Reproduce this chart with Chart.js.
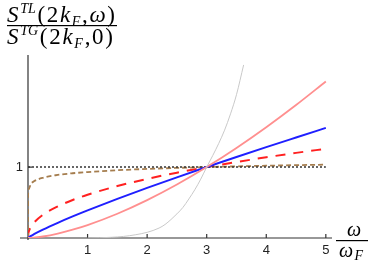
<!DOCTYPE html>
<html>
<head>
<meta charset="utf-8">
<script src="https://cdn.jsdelivr.net/npm/chart.js@4/dist/chart.umd.min.js"></script>
<style>
  body { margin: 0; background: #fff; }
  #wrap { width: 377px; height: 269px; }
</style>
</head>
<body>
<div id="wrap"><canvas id="chart" width="377" height="269"></canvas></div>
<script>
// values
const xTicks = [1, 2, 3, 4, 5];
const yTicks = [1];

const blueX = [0, 0.05, 0.1, 0.25, 0.5, 0.75, 1, 1.5, 2, 2.5, 3, 3.5, 4, 4.5, 5];
const blueY = [0, 0.03, 0.054, 0.118, 0.214, 0.304, 0.389, 0.551, 0.706, 0.855, 1, 1.142, 1.281, 1.417, 1.552];

const pinkX = [0, 0.05, 0.1, 0.25, 0.5, 0.75, 1, 1.5, 2, 2.5, 3, 3.5, 4, 4.5, 5];
const pinkY = [0, 0.002, 0.006, 0.021, 0.062, 0.117, 0.182, 0.342, 0.534, 0.754, 1, 1.27, 1.562, 1.875, 2.207];

const redX = [0, 0.005, 0.02, 0.05, 0.1, 0.25, 0.5, 0.75, 1, 1.5, 2, 2.5, 3, 3.5, 4, 4.5, 5];
const redY = [0, 0.056, 0.105, 0.158, 0.216, 0.327, 0.446, 0.536, 0.61, 0.732, 0.833, 0.921, 1, 1.071, 1.138, 1.2, 1.258];

const brownX = [0, 0.002, 0.01, 0.05, 0.1, 0.25, 0.5, 0.75, 1, 1.5, 2, 2.5, 3, 3.5, 4, 4.5, 5];
const brownY = [0, 0.617, 0.687, 0.763, 0.799, 0.849, 0.889, 0.913, 0.93, 0.955, 0.974, 0.988, 1, 1.01, 1.019, 1.027, 1.034];

const grayX = [1.0, 1.2, 1.4, 1.6, 1.8, 2.0, 2.2, 2.3, 2.4, 2.5, 2.6, 2.7, 2.8, 2.9, 3.0, 3.1, 3.2, 3.3, 3.4, 3.5, 3.62];
const grayY = [0, 0.003, 0.01, 0.022, 0.045, 0.08, 0.14, 0.19, 0.26, 0.34, 0.43, 0.55, 0.68, 0.83, 1.0, 1.16, 1.33, 1.52, 1.75, 2.02, 2.44];

const refX = [0, 5];
const refY = [1, 1];

function pts(xs, ys) {
  return xs.map((x, i) => ({ x: x, y: ys[i] }));
}

// draws a run of text pieces (font, offset) and spreads them to a given width
function richText(ctx, parts, x, y, width) {
  let natural = 0;
  parts.forEach(p => { ctx.font = p.f; natural += ctx.measureText(p.t).width; });
  const gap = parts.length > 1 ? Math.max(0, (width - natural) / (parts.length - 1)) : 0;
  let cx = x;
  parts.forEach(p => {
    ctx.font = p.f;
    ctx.fillText(p.t, cx, y + (p.dy || 0));
    cx += ctx.measureText(p.t).width + gap;
  });
}

const serif = '"Liberation Serif", "DejaVu Serif", serif';
const big = 'italic 23px ' + serif;
const bigUp = '23px ' + serif;
const small = 'italic 14px ' + serif;

const decorations = {
  id: 'decorations',
  beforeDatasetsDraw(chart) {
    const ctx = chart.ctx;
    const xs = chart.scales.x, ys = chart.scales.y;
    const x0 = xs.getPixelForValue(0), y0 = ys.getPixelForValue(0);
    ctx.save();
    ctx.strokeStyle = '#333';
    ctx.lineWidth = 1.2;
    ctx.beginPath();
    ctx.moveTo(x0 - 8, y0); ctx.lineTo(xs.right + 2, y0);
    ctx.moveTo(x0, y0 + 2); ctx.lineTo(x0, ys.top);
    xTicks.forEach(v => {
      const px = xs.getPixelForValue(v);
      ctx.moveTo(px, y0); ctx.lineTo(px, y0 - 4);
    });
    yTicks.forEach(v => {
      const py = ys.getPixelForValue(v);
      ctx.moveTo(x0, py); ctx.lineTo(x0 + 4, py);
    });
    ctx.stroke();
    ctx.restore();
  },
  afterDraw(chart) {
    const ctx = chart.ctx;
    ctx.save();
    ctx.fillStyle = '#000';
    ctx.textBaseline = 'alphabetic';
    // y title as a fraction
    richText(ctx, [
      { t: 'S', f: big }, { t: 'TL', f: small, dy: -9 }, { t: '(', f: bigUp }, { t: '2', f: bigUp },
      { t: 'k', f: big }, { t: 'F', f: small, dy: 4 }, { t: ',', f: bigUp }, { t: 'ω', f: big }, { t: ')', f: bigUp }
    ], 7, 22, 108);
    ctx.fillRect(7, 25, 110, 1.2);
    richText(ctx, [
      { t: 'S', f: big }, { t: 'TG', f: small, dy: -9 }, { t: '(', f: bigUp }, { t: '2', f: bigUp },
      { t: 'k', f: big }, { t: 'F', f: small, dy: 4 }, { t: ',', f: bigUp }, { t: '0', f: bigUp }, { t: ')', f: bigUp }
    ], 7, 44, 106);
    // x title as a fraction
    ctx.font = 'italic 20px ' + serif;
    ctx.textAlign = 'center';
    ctx.fillText('ω', 354, 236);
    ctx.fillRect(336, 240, 32, 1.2);
    ctx.textAlign = 'left';
    richText(ctx, [{ t: 'ω', f: 'italic 20px ' + serif }, { t: 'F', f: 'italic 14px ' + serif, dy: 3 }], 339, 257, 24);
    ctx.restore();
  }
};

const ctx = document.getElementById('chart').getContext('2d');
new Chart(ctx, {
  type: 'line',
  data: {
    datasets: [
      { data: pts(grayX, grayY), borderColor: '#c9c9c9', borderWidth: 1 },
      { data: pts(pinkX, pinkY), borderColor: '#ff8f8f', borderWidth: 1.8 },
      { data: pts(blueX, blueY), borderColor: '#1f1fff', borderWidth: 2 },
      { data: pts(refX, refY), borderColor: '#333', borderWidth: 1.6, borderDash: [2, 2] },
      { data: pts(brownX, brownY), borderColor: '#a57d4e', borderWidth: 1.8, borderDash: [5, 3] },
      { data: pts(redX, redY), borderColor: '#ff2020', borderWidth: 2, borderDash: [10, 8] }
    ]
  },
  options: {
    responsive: false,
    animation: false,
    parsing: false,
    elements: {
      point: { radius: 0 },
      line: { cubicInterpolationMode: 'monotone', fill: false }
    },
    layout: { padding: { left: 0, top: 55, right: 47, bottom: 0 } },
    plugins: { legend: { display: false }, tooltip: { enabled: false } },
    scales: {
      x: {
        type: 'linear', min: 0, max: 5.07,
        grid: { display: false, drawTicks: false },
        border: { display: false },
        afterBuildTicks: s => { s.ticks = xTicks.map(v => ({ value: v })); },
        afterFit: s => { s.height = 31; },
        ticks: { padding: 5, color: '#222', font: { family: '"Liberation Sans", Arial, sans-serif', size: 13 } }
      },
      y: {
        type: 'linear', min: 0, max: 2.58,
        grid: { display: false, drawTicks: false },
        border: { display: false },
        afterBuildTicks: s => { s.ticks = yTicks.map(v => ({ value: v })); },
        afterFit: s => { s.width = 28; },
        ticks: { padding: 5, color: '#222', font: { family: '"Liberation Sans", Arial, sans-serif', size: 13 } }
      }
    }
  },
  plugins: [decorations]
});
</script>
</body>
</html>
